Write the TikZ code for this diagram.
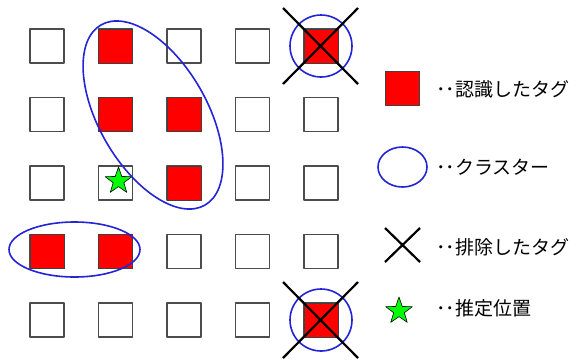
\documentclass[tikz,border=0pt]{standalone}
\usepackage{fontspec}
\setmainfont{Noto Sans CJK JP}
\usetikzlibrary{shapes.geometric}

\definecolor{tagred}{RGB}{255,0,0}
\definecolor{clusterblue}{RGB}{35,35,215}
\definecolor{posgreen}{RGB}{0,255,0}

\begin{document}
\begin{tikzpicture}[x=1pt, y=-1pt, line join=round,
  tag/.style={draw=black!70, line width=1.3pt, minimum size=34pt, inner sep=0pt},
  hit/.style={tag, fill=tagred, draw=black!75, line width=1pt},
  cluster/.style={draw=clusterblue, line width=1.6pt},
  reject/.style={draw=black, line width=2.2pt},
  estpos/.style={star, star points=5, star point ratio=2.5, fill=posgreen,
    draw=black, line width=0.6pt, minimum size=28pt, inner sep=0pt},
  legtext/.style={anchor=west, inner sep=0pt, font=\fontsize{19}{22}\selectfont}]

  \useasboundingbox (0,0) rectangle (577,360);

  % Parameters
  \def\gx{47}     % center of first column
  \def\gy{46}     % center of first row
  \def\d{68.5}    % grid pitch
  \def\R{31}      % radius of the single-tag clusters

  % ---- Tag grid (5 x 5) ----
  \foreach \r in {0,...,4}{
    \foreach \c in {0,...,4}{
      \node[tag] (t\r\c) at ({\gx+\c*\d},{\gy+\r*\d}) {};
    }
  }

  % ---- Recognised tags ----
  \foreach \r/\c in {0/1,0/4,1/1,1/2,2/2,3/0,3/1,4/4}{
    \node[hit] (h\r\c) at (t\r\c) {};
  }

  % ---- Estimated position ----
  \node[estpos] (pos) at (118.5,181) {};

  % ---- Clusters ----
  \draw[cluster, rotate around={-60:(153,115)}] (153,115) ellipse (104 and 54);
  \draw[cluster] (74.5,249.5) ellipse (65.5 and 27.5);
  \draw[cluster] (t04) circle (\R);
  \draw[cluster] (t44) circle (\R);

  % ---- Rejected tags ----
  \draw[reject] (283,8) -- (358,84) (358,8) -- (283,84);
  \draw[reject] (283,282) -- (358,358) (358,282) -- (283,358);

  % ---- Legend ----
  \node[hit] (lhit) at (402.5,88) {};
  \node[legtext] (lhittext) at (436,89) {･･認識したタグ};

  \draw[cluster] (402.5,167) ellipse (24.5 and 20);
  \node[legtext] (lclustext) at (436,167) {･･クラスター};

  \draw[reject] (385,228) -- (420,262) (420,228) -- (385,262);
  \node[legtext] (lrejtext) at (436,247) {･･排除したタグ};

  \node[estpos] (lpos) at (399,311) {};
  \node[legtext] (lpostext) at (436,308) {･･推定位置};

\end{tikzpicture}
\end{document}
